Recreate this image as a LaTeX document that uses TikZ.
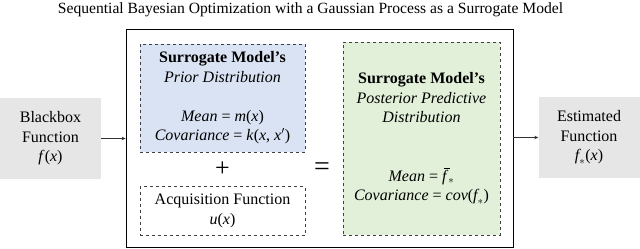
\documentclass[tikz,border=0pt]{standalone}
\usepackage{fontspec}
\setmainfont{Liberation Serif}
\usetikzlibrary{arrows.meta}
\definecolor{priorblue}{HTML}{DAE3F3}
\definecolor{postgreen}{HTML}{E2F0D9}
\definecolor{boxgray}{HTML}{E7E6E6}
\definecolor{dashgray}{HTML}{404040}
\newcommand{\fbarstar}{\makebox[0pt][l]{\hspace{2.2pt}\raisebox{12.3pt}{\rule{6pt}{0.7pt}}}\textit{f}$_{*}$}
\begin{document}
\begin{tikzpicture}[x=1pt,y=-1pt,
  txt/.style={font=\fontsize{16}{19.5}\selectfont, align=center, inner sep=0pt},
  graybox/.style={fill=boxgray, draw=none, minimum width=101pt, minimum height=81pt, txt},
  dashbox/.style={draw=dashgray, dashed, line width=0.8pt, txt},
  arr/.style={-{Stealth[length=4pt,width=3.5pt]}, line width=0.6pt, draw=black!80}
]
\useasboundingbox (0,0) rectangle (640,249);
\node[font=\fontsize{15.6}{18}\selectfont, inner sep=0pt] (title) at (310.5,10) {Sequential Bayesian Optimization with a Gaussian Process as a Surrogate Model};
\node[draw=black, line width=0.8pt, minimum width=387pt, minimum height=218pt, inner sep=0pt] (main) at (319.5,138) {};
\node[graybox] (bb) at (50.5,138.5) {Blackbox\\Function\\\textit{f}(\textit{x})};
\node[graybox] (est) at (589,137.5) {Estimated\\Function\\$\textit{f}_{*}$(\textit{x})};
\node[dashbox, fill=priorblue, minimum width=165pt, minimum height=108pt] (prior) at (222.5,98)
  {\textbf{Surrogate Model’s}\\\textit{Prior Distribution}\\[19.5pt]\textit{Mean} = \textit{m}(\textit{x})\\\textit{Covariance} = \textit{k}(\textit{x}, \textit{x}$'$)};
\node[dashbox, minimum width=165pt, minimum height=49pt] (acq) at (222.5,211)
  {Acquisition Function\\\textit{u}(\textit{x})};
\node[dashbox, fill=postgreen, minimum width=157pt, minimum height=193pt] (post) at (421.5,138.5)
  {\textbf{Surrogate Model’s}\\\textit{Posterior Predictive}\\\textit{Distribution}\\[39pt]\textit{Mean} = \fbarstar\\\textit{Covariance} = \textit{cov}($\textit{f}_{*}$)};
\node[font=\fontsize{26}{26}\selectfont, inner sep=0pt] (plus) at (222.5,169) {+};
\node[font=\fontsize{28}{28}\selectfont, inner sep=0pt] (eq) at (322,169) {=};
\draw[arr] (bb.east) -- (bb.east -| main.west);
\draw[arr] (est.west -| main.east) -- (est.west);
\end{tikzpicture}
\end{document}
